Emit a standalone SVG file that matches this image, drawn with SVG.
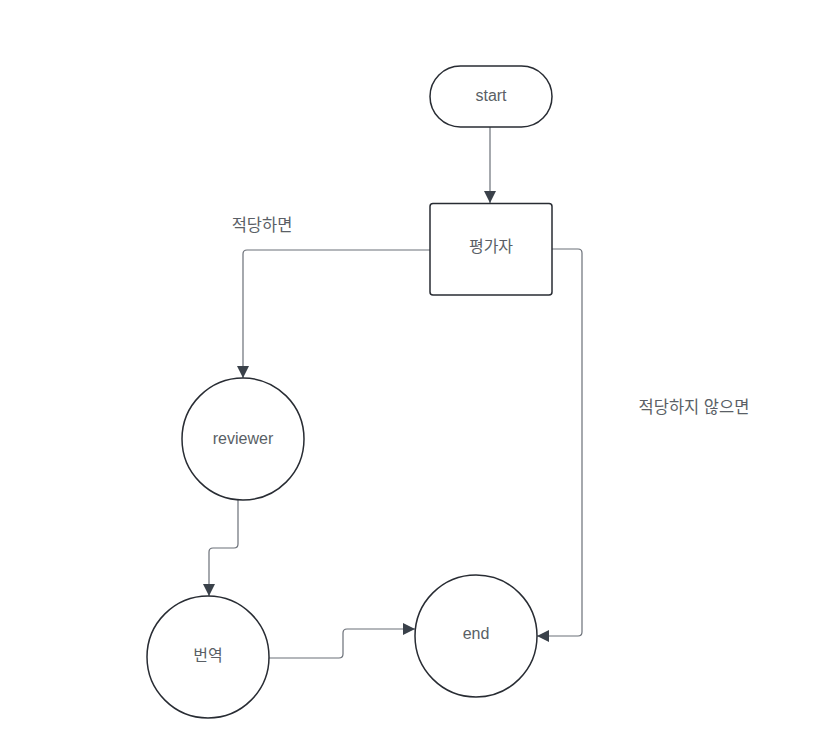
<svg xmlns="http://www.w3.org/2000/svg" width="836" height="754" viewBox="0 0 836 754">
<defs>
<style>
.node{fill:#fff;stroke:#282c33;stroke-width:1.5}
.lbl{font-family:"Liberation Sans","Noto Sans CJK KR",sans-serif;font-size:16px;fill:#5a5f66;text-anchor:middle;dominant-baseline:central}
.edge{fill:none;stroke:#6b7078;stroke-width:1.2}
.elbl{font-family:"Liberation Sans","Noto Sans CJK KR",sans-serif;font-size:16.5px;fill:#5a5f66;text-anchor:middle;dominant-baseline:central}
</style>
<marker id="arr" viewBox="0 0 10 10" refX="10" refY="5" markerWidth="12" markerHeight="12" markerUnits="userSpaceOnUse" orient="auto">
<path d="M0,0 L10,5 L0,10 z" fill="#3a414a"/>
</marker>
</defs>
<rect width="836" height="754" fill="#fff"/>
<g id="connectors">
<path class="edge" d="M490,127 V203" marker-end="url(#arr)"/>
<path class="edge" d="M430,250 H247 Q243,250 243,254 V378" marker-end="url(#arr)"/>
<path class="edge" d="M552,249 H578 Q582,249 582,253 V632 Q582,636 578,636 H537" marker-end="url(#arr)"/>
<path class="edge" d="M238,500 V544 Q238,548 234,548 H213 Q209,548 209,552 V596" marker-end="url(#arr)"/>
<path class="edge" d="M269,658 H339 Q343,658 343,654 V633 Q343,629 347,629 H415" marker-end="url(#arr)"/>
<text class="elbl" x="262" y="225">적당하면</text>
<text class="elbl" x="694" y="407">적당하지 않으면</text>
</g>
<g id="start">
<rect class="node" x="430" y="66" width="122" height="61" rx="30.5"/>
<text class="lbl" x="491" y="95">start</text>
</g>
<g id="evaluator">
<rect class="node" x="430" y="203.5" width="122" height="91.5" rx="3"/>
<text class="lbl" x="491" y="246">평가자</text>
</g>
<g id="reviewer">
<circle class="node" cx="243" cy="439" r="61"/>
<text class="lbl" x="243" y="438">reviewer</text>
</g>
<g id="translate">
<circle class="node" cx="208" cy="657" r="61"/>
<text class="lbl" x="208" y="655">번역</text>
</g>
<g id="end">
<circle class="node" cx="476" cy="636" r="61"/>
<text class="lbl" x="476" y="633">end</text>
</g>
</svg>
